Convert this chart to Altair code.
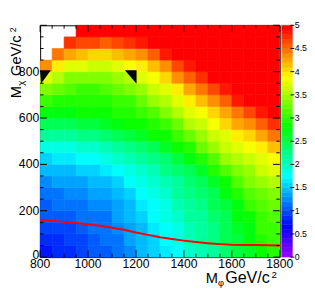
import altair as alt
import pandas as pd
import colorsys

# ---------------- data ----------------
x_centers = [825, 875, 925, 975, 1025, 1075, 1125, 1175, 1225, 1275,
             1325, 1375, 1425, 1475, 1525, 1575, 1625, 1675, 1725, 1775]
y_centers = [25, 75, 125, 175, 225, 275, 325, 375, 425, 475,
             525, 575, 625, 675, 725, 775, 825, 875, 925, 975]
half_bin = 25

# z values per column (bottom -> top); None = empty cell
z_x825 = [0.79, 0.86, 0.93, 1.01, 1.09, 1.17, 1.28, 1.42, 1.59, 1.81, 2.11, 2.43, 2.75, 3.02, 3.36, 3.79, 4.30, None, None, None]
z_x875 = [0.84, 0.88, 0.94, 1.02, 1.10, 1.18, 1.30, 1.43, 1.61, 1.83, 2.13, 2.45, 2.76, 2.97, 3.21, 3.57, 3.99, 4.49, None, None]
z_x925 = [0.87, 0.90, 0.97, 1.05, 1.12, 1.20, 1.33, 1.46, 1.65, 1.87, 2.16, 2.48, 2.79, 2.95, 3.11, 3.39, 3.75, 4.22, 4.71, None]
z_x975 = [0.93, 0.99, 1.05, 1.10, 1.16, 1.25, 1.37, 1.50, 1.70, 1.92, 2.21, 2.52, 2.81, 2.95, 3.09, 3.37, 3.71, 4.13, 4.65, 4.95]
z_x1025 = [1.01, 1.06, 1.11, 1.15, 1.20, 1.31, 1.43, 1.57, 1.76, 1.99, 2.27, 2.57, 2.83, 2.96, 3.09, 3.36, 3.68, 4.09, 4.61, 4.95]
z_x1075 = [1.09, 1.12, 1.16, 1.19, 1.28, 1.39, 1.49, 1.66, 1.84, 2.08, 2.34, 2.64, 2.85, 2.98, 3.10, 3.37, 3.69, 4.07, 4.58, 4.95]
z_x1125 = [1.17, 1.19, 1.22, 1.31, 1.39, 1.47, 1.59, 1.75, 1.94, 2.16, 2.43, 2.72, 2.90, 3.03, 3.21, 3.49, 3.77, 4.15, 4.64, 4.95]
z_x1175 = [1.28, 1.33, 1.38, 1.43, 1.48, 1.57, 1.71, 1.84, 2.05, 2.26, 2.52, 2.81, 2.95, 3.08, 3.33, 3.59, 3.84, 4.21, 4.71, 4.95]
z_x1225 = [1.40, 1.43, 1.46, 1.50, 1.60, 1.71, 1.82, 1.97, 2.15, 2.37, 2.65, 2.88, 3.02, 3.21, 3.47, 3.71, 3.97, 4.35, 4.86, 5.00]
z_x1275 = [1.53, 1.59, 1.65, 1.71, 1.77, 1.83, 1.94, 2.09, 2.26, 2.48, 2.80, 2.96, 3.12, 3.40, 3.63, 3.86, 4.19, 4.59, 4.95, 5.00]
z_x1325 = [1.66, 1.71, 1.75, 1.80, 1.84, 1.95, 2.08, 2.20, 2.39, 2.65, 2.89, 3.06, 3.32, 3.56, 3.79, 4.06, 4.39, 4.80, 5.00, 5.00]
z_x1375 = [1.79, 1.82, 1.84, 1.92, 2.01, 2.10, 2.19, 2.34, 2.52, 2.83, 3.02, 3.27, 3.53, 3.74, 3.98, 4.30, 4.65, 5.00, 5.00, 5.00]
z_x1425 = [1.95, 2.00, 2.05, 2.10, 2.15, 2.20, 2.33, 2.47, 2.74, 2.98, 3.24, 3.51, 3.71, 3.93, 4.23, 4.55, 4.88, 5.00, 5.00, 5.00]
z_x1475 = [2.07, 2.10, 2.14, 2.18, 2.24, 2.36, 2.47, 2.68, 2.93, 3.21, 3.49, 3.69, 3.88, 4.17, 4.47, 4.77, 5.00, 5.00, 5.00, 5.00]
z_x1525 = [2.19, 2.22, 2.28, 2.35, 2.42, 2.49, 2.67, 2.90, 3.18, 3.45, 3.64, 3.83, 4.09, 4.38, 4.66, 4.95, 5.00, 5.00, 5.00, 5.00]
z_x1575 = [2.36, 2.40, 2.44, 2.47, 2.55, 2.70, 2.89, 3.16, 3.42, 3.60, 3.78, 4.00, 4.29, 4.58, 4.88, 5.00, 5.00, 5.00, 5.00, 5.00]
z_x1625 = [2.53, 2.59, 2.65, 2.71, 2.77, 2.93, 3.16, 3.37, 3.55, 3.73, 3.92, 4.20, 4.49, 4.81, 5.00, 5.00, 5.00, 5.00, 5.00, 5.00]
z_x1675 = [2.67, 2.72, 2.76, 2.83, 3.00, 3.17, 3.32, 3.49, 3.66, 3.84, 4.09, 4.37, 4.68, 5.00, 5.00, 5.00, 5.00, 5.00, 5.00, 5.00]
z_x1725 = [2.86, 2.93, 3.00, 3.07, 3.17, 3.29, 3.42, 3.60, 3.78, 3.98, 4.25, 4.55, 4.88, 5.00, 5.00, 5.00, 5.00, 5.00, 5.00, 5.00]
z_x1775 = [2.98, 3.04, 3.09, 3.18, 3.28, 3.38, 3.54, 3.70, 3.87, 4.15, 4.44, 4.78, 5.00, 5.00, 5.00, 5.00, 5.00, 5.00, 5.00, 5.00]

z_columns = [z_x825, z_x875, z_x925, z_x975, z_x1025, z_x1075, z_x1125, z_x1175, z_x1225, z_x1275,
             z_x1325, z_x1375, z_x1425, z_x1475, z_x1525, z_x1575, z_x1625, z_x1675, z_x1725, z_x1775]

# red curve
line_x = [800, 850, 900, 950, 1000, 1050, 1100, 1150, 1200, 1250, 1300,
          1350, 1400, 1450, 1500, 1550, 1600, 1650, 1700, 1750, 1800]
line_y = [161, 157, 152, 147, 142, 135, 127, 118, 106, 96, 86,
          78, 71, 65, 60, 56, 53, 52, 52, 51, 50]

# black triangle markers
marker_x = [822, 1178]
marker_y = [777, 777]
marker_kind = ["left", "right"]

# axes
x_major = [800, 1000, 1200, 1400, 1600, 1800]
x_minor = [850, 900, 950, 1050, 1100, 1150, 1250, 1300, 1350, 1450, 1500, 1550, 1650, 1700, 1750]
y_major = [0, 200, 400, 600, 800, 1000]
y_minor = [50, 100, 150, 250, 300, 350, 450, 500, 550, 650, 700, 750, 850, 900, 950]
x_labels = ["800", "1000", "1200", "1400", "1600", "1800"]
y_label_values = [200, 400, 600, 800]
y_labels = ["200", "400", "600", "800"]
y_zero_label = "0"
cb_labels = ["0", "0.5", "1", "1.5", "2", "2.5", "3", "3.5", "4", "4.5", "5"]
cb_values = [0, 0.5, 1, 1.5, 2, 2.5, 3, 3.5, 4, 4.5, 5]
z_max = 5

# ---------------- tables ----------------
rows = []
for xc, col in zip(x_centers, z_columns):
    for yc, z in zip(y_centers, col):
        if z is None:
            continue
        rows.append(dict(x0=xc - half_bin, x1=xc + half_bin, y0=yc - half_bin, y1=yc + half_bin, z=z))
heat = pd.DataFrame(rows)

# ROOT "pretty" palette: 50 colours, hue 280 -> 0
palette = []
for i in range(50):
    h = (280 - (i + 1) * 5.6) / 360.0
    r, g, b = colorsys.hls_to_rgb(h, 0.5, 1.0)
    palette.append("#%02x%02x%02x" % (round(r * 255), round(g * 255), round(b * 255)))

W, H = 246, 238
FONT = "Liberation Sans"
yscale_per_z = 1000 / z_max

xscale = alt.Scale(domain=[800, 1800], nice=False, zero=False)
yscale = alt.Scale(domain=[0, 1000], nice=False, zero=False)
cscale = alt.Scale(type="quantize", domain=[0, z_max], range=palette, nice=False, zero=False)

base_heat = alt.Chart(heat).mark_rect(strokeWidth=0.6).encode(
    x=alt.X("x0:Q", scale=xscale, axis=None),
    x2="x1:Q",
    y=alt.Y("y0:Q", scale=yscale, axis=None),
    y2="y1:Q",
    color=alt.Color("z:Q", scale=cscale, legend=None),
    stroke=alt.Stroke("z:Q", scale=cscale, legend=None),
)

red_line = alt.Chart(pd.DataFrame({"lx": line_x, "ly": line_y})).mark_line(
    color="#ff0000", strokeWidth=2).encode(
    x=alt.X("lx:Q", scale=xscale, axis=None),
    y=alt.Y("ly:Q", scale=yscale, axis=None),
)

tri_left = "M-0.92,-1.17L0.92,-1.17L-0.75,1.17Z"
tri_right = "M-1,-1.17L1,-1.17L1,1.17Z"
markers = alt.Chart(pd.DataFrame({"mx": marker_x, "my": marker_y, "kind": marker_kind})).mark_point(
    filled=True, color="black", opacity=1, size=144).encode(
    x=alt.X("mx:Q", scale=xscale, axis=None),
    y=alt.Y("my:Q", scale=yscale, axis=None),
    shape=alt.Shape("kind:N", scale=alt.Scale(domain=["left", "right"], range=[tri_left, tri_right]), legend=None),
)

def xticks(vals, length):
    d = alt.Chart(pd.DataFrame({"v": vals}))
    bottom = d.mark_rule(color="black", strokeWidth=1).encode(
        x=alt.X("v:Q", scale=xscale, axis=None), y=alt.value(H), y2=alt.value(H - length))
    top = d.mark_rule(color="black", strokeWidth=1).encode(
        x=alt.X("v:Q", scale=xscale, axis=None), y=alt.value(0), y2=alt.value(length))
    return [bottom, top]

def yticks(vals, length):
    d = alt.Chart(pd.DataFrame({"v": vals}))
    left = d.mark_rule(color="black", strokeWidth=1).encode(
        y=alt.Y("v:Q", scale=yscale, axis=None), x=alt.value(0), x2=alt.value(length))
    right = d.mark_rule(color="black", strokeWidth=1).encode(
        y=alt.Y("v:Q", scale=yscale, axis=None), x=alt.value(W), x2=alt.value(W - length))
    return [left, right]

ticks = xticks(x_major, 7) + xticks(x_minor, 3.5) + yticks(y_major, 7) + yticks(y_minor, 3.5)

xlab = alt.Chart(pd.DataFrame({"v": x_major, "t": x_labels})).mark_text(
    align="center", baseline="top", font=FONT, fontSize=12.5, color="black").encode(
    x=alt.X("v:Q", scale=xscale, axis=None), y=alt.value(H + 1), text="t:N")
ylab = alt.Chart(pd.DataFrame({"v": y_label_values, "t": y_labels})).mark_text(
    align="right", baseline="middle", font=FONT, fontSize=12.5, color="black").encode(
    y=alt.Y("v:Q", scale=yscale, axis=None), x=alt.value(-1), text="t:N")
ylab0 = alt.Chart(pd.DataFrame({"v": [0], "t": [y_zero_label]})).mark_text(
    align="right", baseline="middle", font=FONT, fontSize=12.5, color="black", dy=-2).encode(
    y=alt.Y("v:Q", scale=yscale, axis=None), x=alt.value(-1), text="t:N")

# colour bar (drawn in the y scale: z * 200)
cb_rows = []
for i in range(50):
    lo = i * z_max / 50
    hi = (i + 1) * z_max / 50
    cb_rows.append(dict(c0=lo * yscale_per_z, c1=hi * yscale_per_z, z=(lo + hi) / 2))
cbar = alt.Chart(pd.DataFrame(cb_rows)).mark_rect(strokeWidth=0.5).encode(
    x=alt.value(248), x2=alt.value(259),
    y=alt.Y("c0:Q", scale=yscale, axis=None), y2="c1:Q",
    color=alt.Color("z:Q", scale=cscale, legend=None),
    stroke=alt.Stroke("z:Q", scale=cscale, legend=None),
)
cb_df = pd.DataFrame({"pos": [v * yscale_per_z for v in cb_values], "lab": cb_labels})
cb_ticks = alt.Chart(cb_df).mark_rule(color="black", strokeWidth=1).encode(
    y=alt.Y("pos:Q", scale=yscale, axis=None), x=alt.value(257), x2=alt.value(261))
cb_text = alt.Chart(cb_df).mark_text(align="left", baseline="middle", font=FONT, fontSize=9,
                                     color="black").encode(
    y=alt.Y("pos:Q", scale=yscale, axis=None), x=alt.value(261.5), text="lab:N")

def label(txt, x, y, size, angle=0):
    return alt.Chart(pd.DataFrame({"t": [txt]})).mark_text(
        align="left", baseline="alphabetic", font=FONT, fontSize=size, color="black", angle=angle
    ).encode(x=alt.value(x), y=alt.value(y), text="t:N")

titles = [
    label("M", 170, 265, 15),
    label("\u03c6", 182.5, 267.5, 9.5),
    label("GeV/c", 190, 265, 16.5),
    label("2", 237.5, 259, 10),
    label("M", -20, 75, 15, 270),
    label("\u03c7", -17, 62, 10, 270),
    label("GeV/c", -20, 52, 15, 270),
    label("2", -25, 7, 9, 270),
]

chart = alt.layer(base_heat, red_line, markers, *ticks, xlab, ylab, ylab0, cbar, cb_ticks, cb_text,
                  *titles).properties(
    width=W, height=H,
    autosize=alt.AutoSizeParams(type="none"),
    padding={"left": 33, "top": 14, "right": 28, "bottom": 30},
).configure_view(stroke="black", strokeWidth=1)

chart.save("out.html", embed_options={"renderer": "svg", "actions": False})
